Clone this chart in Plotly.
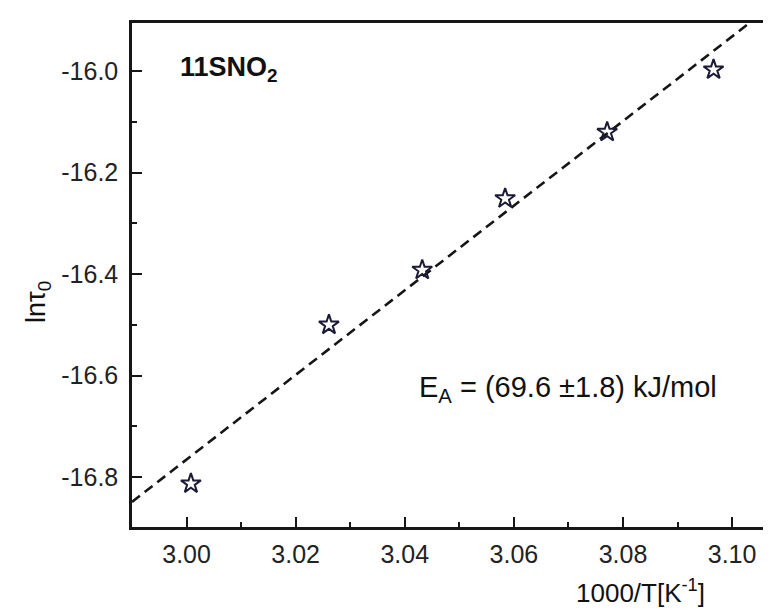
import numpy as np
import plotly.graph_objects as go

# Data
inv_T = [3.0008, 3.0261, 3.0432, 3.0584, 3.0771, 3.0966]      # 1000/T [K^-1]
ln_tau0 = [-16.813, -16.500, -16.392, -16.251, -16.120, -15.997]

x_tick_vals = [3.00, 3.02, 3.04, 3.06, 3.08, 3.10]
x_tick_text = ["3.00", "3.02", "3.04", "3.06", "3.08", "3.10"]
y_tick_vals = [-16.8, -16.6, -16.4, -16.2, -16.0]
y_tick_text = ["-16.8", "-16.6", "-16.4", "-16.2", "-16.0"]

x_range = [2.990, 3.1086]
y_range = [-16.8985, -15.905]

# Linear (Arrhenius) fit
slope, intercept = np.polyfit(inv_T, ln_tau0, 1)
fit_x = np.array(x_range)
fit_y = slope * fit_x + intercept

FONT = "Liberation Sans, Arial, Helvetica, sans-serif"
INK = "#161616"

fig = go.Figure()
fig.add_trace(go.Scatter(
    x=fit_x, y=fit_y, mode="lines",
    line=dict(color=INK, width=2.6, dash="10px,6px"),
    hoverinfo="skip", showlegend=False,
))
fig.add_trace(go.Scatter(
    x=inv_T, y=ln_tau0, mode="markers",
    marker=dict(symbol="star-open", size=15, color="#1b1b38",
                line=dict(color="#1b1b38", width=2)),
    showlegend=False,
))

W, H = 771, 611
L, R, T, B = 124, 0, 15, 92
pw, ph = W - L - R, H - T - B

def px(xp):
    return (xp - L) / pw

def py(yp):
    return (H - B - yp) / ph

axis_common = dict(
    showline=True, linecolor=INK, linewidth=2.5,
    ticks="inside", ticklen=10, tickwidth=2, tickcolor=INK,
    showgrid=False, zeroline=False,
    tickfont=dict(family=FONT, size=25, color="#222222"),
)

fig.update_xaxes(
    range=x_range, tickvals=x_tick_vals, ticktext=x_tick_text,
    mirror=True, ticklabelstandoff=3,
    minor=dict(ticks="inside", ticklen=5, tickwidth=2, tickcolor=INK, dtick=0.01, tick0=3.0),
    **axis_common,
)
fig.update_yaxes(
    range=y_range, tickvals=y_tick_vals, ticktext=y_tick_text,
    mirror=False, ticklabelstandoff=6,
    minor=dict(ticks="inside", ticklen=5, tickwidth=2, tickcolor=INK, dtick=0.1, tick0=-16.0),
    **axis_common,
)

annotations = [
    dict(text="<b>11SNO<sub>2</sub></b>", x=px(170), y=py(61), xref="paper", yref="paper",
         xanchor="left", yanchor="middle", showarrow=False,
         font=dict(family=FONT, size=27, color="#111111")),
    dict(text="E<sub>A</sub> = (69.6 \u00b11.8) kJ/mol", x=px(409), y=py(381), xref="paper", yref="paper",
         xanchor="left", yanchor="middle", showarrow=False,
         font=dict(family=FONT, size=29, color="#111111")),
    dict(text="1000/T[K<sup>-1</sup>]", x=px(632), y=py(583), xref="paper", yref="paper",
         xanchor="center", yanchor="middle", showarrow=False,
         font=dict(family=FONT, size=26, color="#111111")),
    dict(text="ln\u03c4<sub>0</sub>", x=px(30), y=py(294), xref="paper", yref="paper",
         xanchor="center", yanchor="middle", showarrow=False, textangle=-90,
         font=dict(family=FONT, size=27, color="#111111")),
]

fig.update_layout(
    width=W, height=H, autosize=False,
    margin=dict(l=L, r=R, t=T, b=B, pad=0),
    paper_bgcolor="white", plot_bgcolor="white",
    annotations=annotations,
    showlegend=False,
)

fig.write_html("out.html")
